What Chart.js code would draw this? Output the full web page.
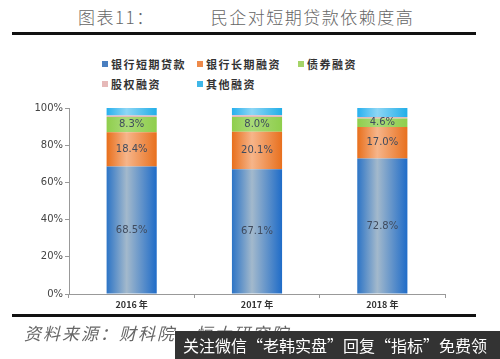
<!DOCTYPE html>
<html>
<head>
<meta charset="utf-8">
<script src="https://cdn.jsdelivr.net/npm/chart.js@4/dist/chart.umd.min.js"></script>
<style>
  body { margin: 0; width: 500px; height: 359px; background: #fff; position: relative; overflow: hidden; font-family: "Noto Sans CJK SC", sans-serif; }
  .titre { position: absolute; top: 4px; left: 78px; font-size: 17px; color: #666; font-weight: 300; font-family: "Noto Sans CJK SC", serif; letter-spacing: 1.5px; white-space: nowrap; }
  .titre span { margin-left: 56px; }
  .ligne { position: absolute; left: 12px; width: 464px; height: 3px; background: #111; }
  #legende { position: absolute; top: 56px; left: 102px; display: grid; grid-template-columns: 95px 101px 90px; row-gap: 4px; font-size: 11px; color: #333; font-weight: bold; letter-spacing: 1.5px; }
  #legende div { display: flex; align-items: center; height: 16px; white-space: nowrap; }
  #legende i { display: inline-block; width: 6px; height: 6px; margin-right: 3px; }
  #zone { position: absolute; left: 0; top: 100px; width: 500px; height: 215px; }
  .source { position: absolute; left: 24px; top: 320px; font-size: 17px; color: #666; font-style: italic; font-family: "Noto Sans CJK SC", serif; letter-spacing: 2px; white-space: nowrap; }
  .pub { position: absolute; left: 175px; top: 331px; width: 325px; height: 28px; background: #333; color: #fff; font-size: 16px; line-height: 28px; padding-left: 8px; box-sizing: border-box; white-space: nowrap; }
</style>
</head>
<body>
<div class="titre">图表11：<span>民企对短期贷款依赖度高</span></div>
<div class="ligne" style="top:32px"></div>
<div id="legende"></div>
<div id="zone"><canvas id="graphique"></canvas></div>
<div class="ligne" style="top:314px"></div>
<div class="source">资料来源：财科院，恒大研究院</div>
<div class="pub">关注微信“老韩实盘”回复“指标”免费领</div>
<script>
// Données (en %)
const annees = ['2016 年', '2017 年', '2018 年'];
const courtTerme = [68.5, 67.1, 72.8];
const longTerme = [18.4, 20.1, 17.0];
const obligations = [8.3, 8.0, 4.6];
const actions = [0.8, 0.9, 0.8];
const autres = [4.0, 3.9, 4.8];
const ticksY = [0, 20, 40, 60, 80, 100];

const noms = ['银行短期贷款', '银行长期融资', '债券融资', '股权融资', '其他融资'];
const couleursLegende = ['#4a7fc0', '#ee8a4a', '#a5d468', '#e6b9b8', '#3fb7e8'];
// dégradés horizontaux : bord, centre, bord
const degrades = [
    ['#2c74c6', '#a3b9cc', '#1f6cc8'],
    ['#e86f1c', '#f6b58a', '#e8701e'],
    ['#8fce4c', '#a9da78', '#8fce4c'],
    ['#e6b9b8', '#e6b9b8', '#e6b9b8'],
    ['#27b0ee', '#8dd6f5', '#22aee8']
];
const largeurBarre = 0.4;

function fond(i) {
    return function (context) {
        const chart = context.chart;
        const x = chart.scales.x;
        if (context.dataIndex === undefined || !x || !chart.chartArea) return couleursLegende[i];
        const cx = x.getPixelForValue(context.dataIndex);
        const w = chart.chartArea.width / annees.length * largeurBarre;
        const g = chart.ctx.createLinearGradient(cx - w / 2, 0, cx + w / 2, 0);
        g.addColorStop(0, degrades[i][0]);
        g.addColorStop(0.4, degrades[i][1]);
        g.addColorStop(1, degrades[i][2]);
        return g;
    };
}

const series = [courtTerme, longTerme, obligations, actions, autres];

// Etiquettes au centre des segments (3 premières séries)
const etiquettes = {
    id: 'etiquettes',
    afterDatasetsDraw(chart) {
        const ctx = chart.ctx;
        ctx.save();
        ctx.font = '10px "DejaVu Sans", sans-serif';
        ctx.fillStyle = '#3f4b5e';
        ctx.textAlign = 'center';
        ctx.textBaseline = 'middle';
        for (let d = 0; d < 3; d++) {
            chart.getDatasetMeta(d).data.forEach(function (barre, j) {
                const milieu = (barre.y + barre.base) / 2;
                ctx.fillText(series[d][j].toFixed(1) + '%', barre.x, milieu);
            });
        }
        ctx.restore();
    }
};

const graphique = new Chart(document.getElementById('graphique'), {
    type: 'bar',
    data: {
        labels: annees,
        datasets: series.map(function (valeurs, i) {
            return {
                label: noms[i],
                data: valeurs,
                backgroundColor: fond(i),
                borderWidth: 0,
                barPercentage: largeurBarre,
                categoryPercentage: 1
            };
        })
    },
    options: {
        responsive: true,
        maintainAspectRatio: false,
        animation: false,
        layout: { padding: { top: 8, right: 55, left: 0, bottom: 0 } },
        plugins: {
            legend: { display: false },
            tooltip: { enabled: false }
        },
        scales: {
            x: {
                stacked: true,
                grid: { display: true, drawOnChartArea: false, tickLength: 4, color: '#999' },
                border: { display: true, color: '#999' },
                ticks: { color: '#333', font: { size: 9, weight: 'bold', family: '"Noto Sans CJK SC", sans-serif' }, padding: 1 },
                afterFit: function (s) { s.height = 21; }
            },
            y: {
                stacked: true,
                min: 0,
                max: 100,
                grid: { display: true, drawOnChartArea: false, tickLength: 4, color: '#999' },
                border: { display: true, color: '#999' },
                afterBuildTicks: function (s) { s.ticks = ticksY.map(function (v) { return { value: v }; }); },
                ticks: {
                    color: '#444',
                    padding: 2,
                    font: { size: 10, family: '"DejaVu Sans", sans-serif' },
                    callback: function (v) { return v + '%'; }
                },
                afterFit: function (s) { s.width = 69; }
            }
        }
    },
    plugins: [etiquettes]
});

// Légende HTML construite à partir des séries
const legende = document.getElementById('legende');
graphique.data.datasets.forEach(function (ds, i) {
    const item = document.createElement('div');
    item.innerHTML = '<i style="background:' + couleursLegende[i] + '"></i>' + ds.label;
    legende.appendChild(item);
});
</script>
</body>
</html>
